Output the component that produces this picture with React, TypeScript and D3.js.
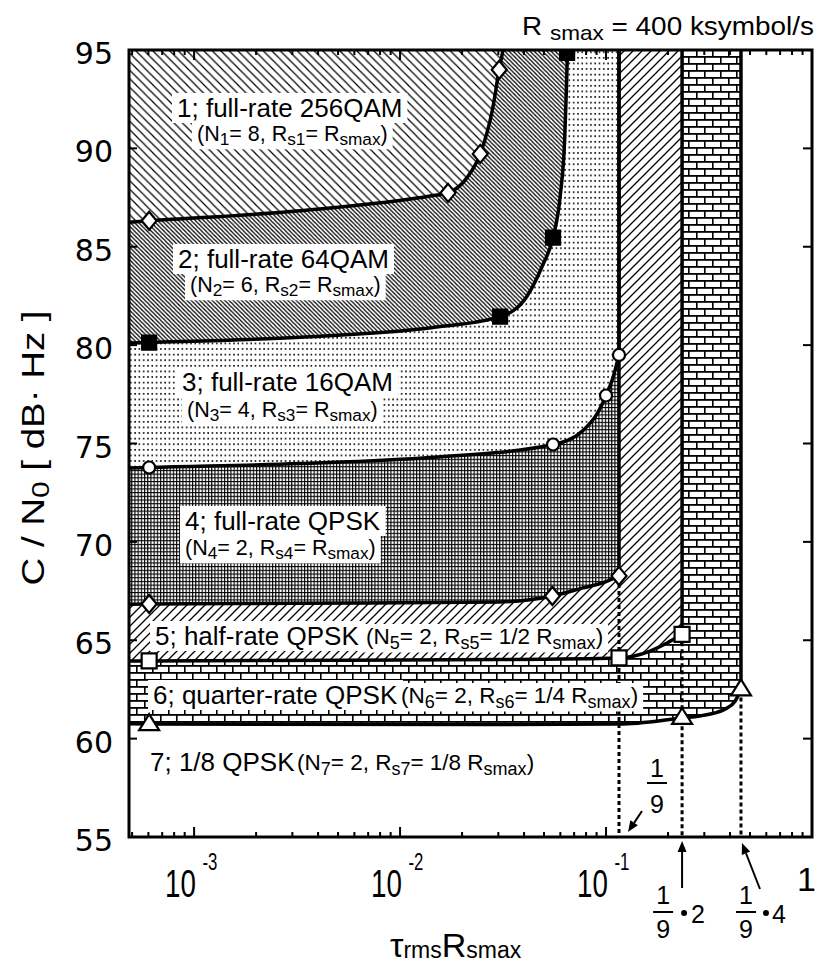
import React, { useEffect, useRef } from "react";
import * as d3 from "d3";

const WIDTH = 818;
const HEIGHT = 967;
const FONT = "'Liberation Sans', Arial, Helvetica, sans-serif";
const TICKFONT = "'DejaVu Sans', 'Liberation Sans', sans-serif";

// ---- axes ----
const xDomain = [4.83e-4, 1];
const yDomain = [55, 95];
const yTickValues = [55, 60, 65, 70, 75, 80, 85, 90, 95];
const xMajorTicks = [1e-3, 1e-2, 1e-1, 1];
const xTickBase = ["10", "10", "10", "1"];
const xTickExp = ["-3", "-2", "-1", ""];

// ---- region boundaries (x = tau_rms * Rsmax, y = C/N0 dB.Hz) ----
const b256X = [4.83e-4, 6.05e-4, 3.27e-3, 0.01445, 0.0171, 0.0211, 0.0245, 0.028, 0.0303, 0.0316];
const b256Y = [86.25, 86.32, 86.83, 87.6, 87.74, 88.5, 89.72, 91.9, 94.0, 95];
const b64X = [4.83e-4, 6.05e-4, 3.27e-3, 0.01445, 0.0306, 0.0414, 0.0494, 0.0553, 0.0598, 0.063, 0.0643, 0.065];
const b64Y = [80.1, 80.13, 80.4, 80.9, 81.45, 82.5, 84.1, 85.46, 87.5, 90.5, 93.2, 95];
const b16X = [4.83e-4, 6.05e-4, 3.27e-3, 0.01445, 0.0553, 0.0773, 0.0904, 0.1, 0.1081, 0.1156];
const b16Y = [73.75, 73.78, 73.98, 74.3, 74.95, 75.66, 76.5, 77.44, 78.35, 79.5];
const bQpskX = [4.83e-4, 6.05e-4, 3.27e-3, 0.0306, 0.0549, 0.0773, 0.0985, 0.1156];
const bQpskY = [66.83, 66.84, 66.88, 66.95, 67.25, 67.66, 67.95, 68.27];
const bHalfX = [4.83e-4, 6.05e-4, 0.0306, 0.1156, 0.1636, 0.1978, 0.234];
const bHalfY = [63.94, 63.95, 64.02, 64.1, 64.45, 64.86, 65.3];
const bQuarterX = [4.83e-4, 6.05e-4, 0.0306, 0.1156, 0.234, 0.286, 0.378, 0.423, 0.452];
const bQuarterY = [60.75, 60.74, 60.72, 60.74, 61.05, 61.15, 61.5, 61.9, 62.5];

// ---- markers ----
const mk256X = [6.05e-4, 0.0171, 0.0245, 0.0303];
const mk256Y = [86.32, 87.74, 89.72, 94.0];
const mk64X = [6.05e-4, 0.0306, 0.0553, 0.0647];
const mk64Y = [80.13, 81.45, 85.46, 94.85];
const mk16X = [6.05e-4, 0.0553, 0.1, 0.1156];
const mk16Y = [73.78, 74.95, 77.44, 79.5];
const mkQpskX = [6.05e-4, 0.0549, 0.1156];
const mkQpskY = [66.84, 67.25, 68.27];
const mkHalfX = [6.05e-4, 0.1156, 0.234];
const mkHalfY = [63.95, 64.1, 65.3];
const mkQuarterX = [6.05e-4, 0.234, 0.452];
const mkQuarterY = [60.74, 61.05, 62.5];

// dotted drop lines at 1/9, 2/9, 4/9 limits
const dropX = [0.1156, 0.234, 0.452];
const dropY = [68.27, 65.3, 62.5];

// ---- texts ----
const regionMain = [
  "1; full-rate 256QAM",
  "2; full-rate 64QAM",
  "3; full-rate 16QAM",
  "4; full-rate QPSK",
  "5; half-rate QPSK",
  "6; quarter-rate QPSK",
  "7; 1/8 QPSK",
];
const regionSub = [
  "(N_{1}= 8, R_{s1}= R_{smax})",
  "(N_{2}= 6, R_{s2}= R_{smax})",
  "(N_{3}= 4, R_{s3}= R_{smax})",
  "(N_{4}= 2, R_{s4}= R_{smax})",
  "(N_{5}= 2, R_{s5}= 1/2 R_{smax})",
  "(N_{6}= 2, R_{s6}= 1/4 R_{smax})",
  "(N_{7}= 2, R_{s7}= 1/8 R_{smax})",
];
const topTitle = "R _{smax} = 400 ksymbol/s";
const yTitle = "C / N_{0} [ dB\u00b7 Hz ]";
const xTitle = "\u03c4_{rms}R_{smax}";

function rich(parent: any, str: string, o: any) {
  const t = parent
    .append("text")
    .attr("x", o.x)
    .attr("y", o.y)
    .attr("font-size", o.fs)
    .attr("font-family", o.family || FONT)
    .attr("fill", "#000")
    .style("white-space", "pre");
  if (o.anchor) t.attr("text-anchor", o.anchor);
  if (o.transform) t.attr("transform", o.transform);
  const parts = str.split(/(_\{[^}]*\})/).filter((p) => p.length);
  let shift = 0;
  for (const p of parts) {
    if (p.startsWith("_{")) {
      t.append("tspan").attr("font-size", o.subFs).attr("dy", o.subDy - shift).text(p.slice(2, -1));
      shift = o.subDy;
    } else {
      const ts = t.append("tspan").text(p);
      if (shift) ts.attr("dy", -shift);
      shift = 0;
    }
  }
  if (o.len) t.attr("textLength", o.len).attr("lengthAdjust", "spacingAndGlyphs");
  return t;
}

export default function App() {
  const ref = useRef<SVGSVGElement>(null);

  useEffect(() => {
    const svg = d3.select(ref.current as SVGSVGElement);
    svg.selectAll("*").remove();

    const x = d3.scaleLog().domain(xDomain).range([129, 812]);
    const y = d3.scaleLinear().domain(yDomain).range([837, 50]);
    const xL = x(xDomain[0]);
    const xR = x(xDomain[1]);
    const yB = y(yDomain[0]);
    const yT = y(yDomain[1]);

    const defs = svg.append("defs");
    defs
      .append("clipPath")
      .attr("id", "plotclip")
      .append("rect")
      .attr("x", xL)
      .attr("y", yT)
      .attr("width", xR - xL)
      .attr("height", yB - yT);

    const mkPattern = (id: string, w: number, h: number) => {
      const p = defs
        .append("pattern")
        .attr("id", id)
        .attr("patternUnits", "userSpaceOnUse")
        .attr("width", w)
        .attr("height", h);
      p.append("rect").attr("width", w).attr("height", h).attr("fill", "#fff");
      return p;
    };
    const back = (s: number) =>
      `M${-s / 2},${-s / 2}L${1.5 * s},${1.5 * s}M${-s / 2},${s / 2}L${s / 2},${1.5 * s}M${s / 2},${-s / 2}L${1.5 * s},${s / 2}`;
    const fwd = (s: number) =>
      `M${-s / 2},${1.5 * s}L${1.5 * s},${-s / 2}M${-s / 2},${s / 2}L${s / 2},${-s / 2}M${s / 2},${1.5 * s}L${1.5 * s},${s / 2}`;

    mkPattern("p1", 8.5, 8.5).append("path").attr("d", back(8.5)).attr("stroke", "#000").attr("stroke-width", 1.2);
    mkPattern("p2", 4.2, 4.2).append("path").attr("d", back(4.2)).attr("stroke", "#000").attr("stroke-width", 1.25);
    const p3 = mkPattern("p3", 4.3, 5.6);
    p3.append("rect").attr("x", 1).attr("y", 1).attr("width", 1.6).attr("height", 1.6).attr("fill", "#000");
    const p4 = mkPattern("p4", 3.2, 3.7);
    p4.append("rect").attr("x", 0).attr("y", 0).attr("width", 1.1).attr("height", 3.7).attr("fill", "#000");
    p4.append("rect").attr("x", 0).attr("y", 0).attr("width", 3.2).attr("height", 1.1).attr("fill", "#000");
    mkPattern("p5", 9, 9).append("path").attr("d", fwd(9)).attr("stroke", "#000").attr("stroke-width", 1.3);
    const p6 = mkPattern("p6", 16, 14);
    p6.append("rect").attr("x", 0).attr("y", 0).attr("width", 16).attr("height", 1.8).attr("fill", "#000");
    p6.append("rect").attr("x", 0).attr("y", 7).attr("width", 16).attr("height", 1.8).attr("fill", "#000");
    p6.append("rect").attr("x", 0).attr("y", 0).attr("width", 1.6).attr("height", 7).attr("fill", "#000");
    p6.append("rect").attr("x", 8).attr("y", 7).attr("width", 1.6).attr("height", 7).attr("fill", "#000");

    const line = d3
      .line<[number, number]>()
      .x((d) => x(d[0]))
      .y((d) => y(d[1]))
      .curve(d3.curveMonotoneX);

    const boundaryD = (xs: number[], ys: number[]) => {
      const pts = xs.map((v, i) => [v, ys[i]] as [number, number]);
      let d = line(pts) as string;
      const last = pts[pts.length - 1];
      if (last[1] < yDomain[1]) d += `L${x(last[0])},${yT}`;
      return d;
    };
    const underD = (xs: number[], ys: number[]) =>
      boundaryD(xs, ys) + `L${xR},${yT}L${xR},${yB}L${xL},${yB}Z`;

    const plot = svg.append("g").attr("clip-path", "url(#plotclip)");
    plot
      .append("rect")
      .attr("x", xL)
      .attr("y", yT)
      .attr("width", xR - xL)
      .attr("height", yB - yT)
      .attr("fill", "url(#p1)");

    const bounds: [number[], number[], string][] = [
      [b256X, b256Y, "url(#p2)"],
      [b64X, b64Y, "url(#p3)"],
      [b16X, b16Y, "url(#p4)"],
      [bQpskX, bQpskY, "url(#p5)"],
      [bHalfX, bHalfY, "url(#p6)"],
      [bQuarterX, bQuarterY, "#fff"],
    ];
    bounds.forEach(([xs, ys, fill]) => {
      plot.append("path").attr("d", underD(xs, ys)).attr("fill", fill);
    });
    bounds.forEach(([xs, ys]) => {
      plot
        .append("path")
        .attr("d", boundaryD(xs, ys))
        .attr("fill", "none")
        .attr("stroke", "#000")
        .attr("stroke-width", 3.5)
        .attr("stroke-linejoin", "round");
    });

    // dotted drop lines
    dropX.forEach((v, i) => {
      plot
        .append("line")
        .attr("x1", x(v))
        .attr("x2", x(v))
        .attr("y1", y(dropY[i]) + 8)
        .attr("y2", yB)
        .attr("stroke", "#000")
        .attr("stroke-width", 3)
        .attr("stroke-dasharray", "4,3");
    });

    // labels with white boxes
    const mainPos = [
      [177, 117],
      [178, 268],
      [182, 391],
      [185, 530],
      [155, 645],
      [153, 704],
      [150, 771],
    ];
    const subPos = [
      [197, 141, 21.5],
      [190, 292, 21.5],
      [187, 417, 21.5],
      [185, 555, 21.5],
      [366, 644, 22.5],
      [401, 703, 22.5],
      [297, 770, 22.5],
    ];
    regionMain.forEach((txt, i) => {
      const g = plot.append("g");
      const t1 = rich(g, txt, { x: mainPos[i][0], y: mainPos[i][1], fs: 26 });
      const sp = subPos[i];
      const t2 = rich(g, regionSub[i], {
        x: sp[0],
        y: sp[1],
        fs: sp[2],
        subFs: sp[2] * 0.8,
        subDy: sp[2] * 0.2,
      });
      [t1, t2].forEach((t) => {
        const bb = (t.node() as SVGTextElement).getBBox();
        g.insert("rect", "text")
          .attr("x", bb.x - 5)
          .attr("y", bb.y)
          .attr("width", bb.width + 10)
          .attr("height", bb.height)
          .attr("fill", "#fff");
      });
    });

    // markers
    const mg = plot.append("g").attr("stroke", "#000").attr("stroke-width", 2.2);
    const diamond = "M0,-9L7.5,0L0,9L-7.5,0Z";
    const sq = (s: number) => `M${-s},${-s}H${s}V${s}H${-s}Z`;
    const tri = "M0,-10L10,6L-10,6Z";
    const put = (xs: number[], ys: number[], d: string | null, fill: string, r?: number) => {
      xs.forEach((v, i) => {
        if (d) {
          mg.append("path")
            .attr("d", d)
            .attr("transform", `translate(${x(v)},${y(ys[i])})`)
            .attr("fill", fill);
        } else {
          mg.append("circle").attr("cx", x(v)).attr("cy", y(ys[i])).attr("r", r!).attr("fill", fill);
        }
      });
    };
    put(mk256X, mk256Y, diamond, "#fff");
    put(mk64X, mk64Y, sq(7), "#000");
    put(mk16X, mk16Y, null, "#fff", 6);
    put(mkQpskX, mkQpskY, diamond, "#fff");
    put(mkHalfX, mkHalfY, sq(7.5), "#fff");
    put(mkQuarterX, mkQuarterY, tri, "#fff");

    // frame
    svg
      .append("rect")
      .attr("x", xL)
      .attr("y", yT)
      .attr("width", xR - xL)
      .attr("height", yB - yT)
      .attr("fill", "none")
      .attr("stroke", "#000")
      .attr("stroke-width", 3);

    // ticks
    const tg = svg.append("g").attr("stroke", "#000").attr("stroke-width", 2);
    yTickValues.forEach((v) => {
      tg.append("line").attr("x1", xL).attr("x2", xL + 8).attr("y1", y(v)).attr("y2", y(v));
      tg.append("line").attr("x1", xR).attr("x2", xR - 9).attr("y1", y(v)).attr("y2", y(v));
    });
    const minor: number[] = [];
    for (let e = -4; e < 0; e++) {
      for (let k = 2; k <= 9; k++) {
        const v = k * Math.pow(10, e);
        if (v >= xDomain[0] && v <= xDomain[1]) minor.push(v);
      }
    }
    minor.forEach((v) => {
      tg.append("line").attr("x1", x(v)).attr("x2", x(v)).attr("y1", yB).attr("y2", yB - 5);
      tg.append("line").attr("x1", x(v)).attr("x2", x(v)).attr("y1", yT).attr("y2", yT + 5);
    });
    xMajorTicks.forEach((v) => {
      tg.append("line").attr("x1", x(v)).attr("x2", x(v)).attr("y1", yB).attr("y2", yB - 10);
      tg.append("line").attr("x1", x(v)).attr("x2", x(v)).attr("y1", yT).attr("y2", yT + 10);
    });

    // y tick labels
    yTickValues.forEach((v) => {
      svg
        .append("text")
        .attr("x", 113)
        .attr("y", y(v) + 14)
        .attr("text-anchor", "end")
        .attr("font-family", TICKFONT)
        .attr("font-size", 30)
        .text(String(v));
    });

    // x tick labels (condensed "10" with superscript exponent in one text)
    xMajorTicks.forEach((v, i) => {
      const px = x(v);
      if (xTickExp[i]) {
        const t = svg
          .append("text")
          .attr("x", 0)
          .attr("y", 0)
          .attr("transform", `translate(${px - 29},897) scale(0.73,1)`)
          .attr("font-family", FONT)
          .attr("font-size", 38)
          .style("white-space", "pre");
        t.append("tspan").text(xTickBase[i]);
        t.append("tspan").attr("dx", 9).attr("dy", -27).attr("font-size", 23).text(xTickExp[i]);
      } else {
        svg
          .append("text")
          .attr("x", 816)
          .attr("y", 891)
          .attr("text-anchor", "end")
          .attr("font-family", FONT)
          .attr("font-size", 34)
          .text(xTickBase[i]);
      }
    });

    // titles
    rich(svg, topTitle, { x: 522, y: 35, fs: 26, subFs: 21, subDy: 5, len: 292 });
    rich(svg, yTitle, {
      x: 0,
      y: 0,
      fs: 31,
      subFs: 24,
      subDy: 5,
      anchor: "middle",
      transform: "translate(44,448) rotate(-90)",
      len: 275,
    });
    rich(svg, xTitle, { x: 390, y: 957, fs: 34, subFs: 23, subDy: 1 });

    // bottom annotations: fractions and arrows
    const ann = svg.append("g");
    const frac = (cx: number, yTop: number, yBar: number, yBot: number) => {
      ann.append("text").attr("x", cx).attr("y", yTop).attr("text-anchor", "middle").attr("font-family", FONT).attr("font-size", 25).text("1");
      ann.append("line").attr("x1", cx - 10).attr("x2", cx + 10).attr("y1", yBar).attr("y2", yBar).attr("stroke", "#000").attr("stroke-width", 2);
      ann.append("text").attr("x", cx).attr("y", yBot).attr("text-anchor", "middle").attr("font-family", FONT).attr("font-size", 25).text("9");
    };
    const arrow = (x1: number, y1: number, x2: number, y2: number) => {
      const a = Math.atan2(y2 - y1, x2 - x1);
      const L = 11, Wd = 4.5;
      const bx = x2 - L * Math.cos(a), by = y2 - L * Math.sin(a);
      ann.append("line").attr("x1", x1).attr("y1", y1).attr("x2", bx).attr("y2", by).attr("stroke", "#000").attr("stroke-width", 2);
      ann
        .append("path")
        .attr("d", `M${x2},${y2}L${bx + Wd * Math.sin(a)},${by - Wd * Math.cos(a)}L${bx - Wd * Math.sin(a)},${by + Wd * Math.cos(a)}Z`)
        .attr("fill", "#000");
    };
    const d1 = x(dropX[0]);
    const d2 = x(dropX[1]);
    const d3x = x(dropX[2]);
    frac(d1 + 38, 777, 783, 813);
    arrow(d1 + 23, 811, d1 + 9, 832);
    frac(d2 - 19, 904, 912, 938);
    arrow(d2, 888, d2, 841);
    ann.append("circle").attr("cx", d2 + 2).attr("cy", 913).attr("r", 3).attr("fill", "#000");
    ann.append("text").attr("x", d2 + 9).attr("y", 923).attr("font-family", FONT).attr("font-size", 25).text("2");
    frac(d3x + 5, 904, 912, 938);
    arrow(d3x + 19, 889, d3x + 1, 843);
    ann.append("circle").attr("cx", d3x + 25).attr("cy", 913).attr("r", 3).attr("fill", "#000");
    ann.append("text").attr("x", d3x + 31).attr("y", 923).attr("font-family", FONT).attr("font-size", 25).text("4");
  }, []);

  return (
    <svg
      ref={ref}
      width={WIDTH}
      height={HEIGHT}
      style={{ position: "absolute", left: 0, top: 0, background: "#fff" }}
    />
  );
}
